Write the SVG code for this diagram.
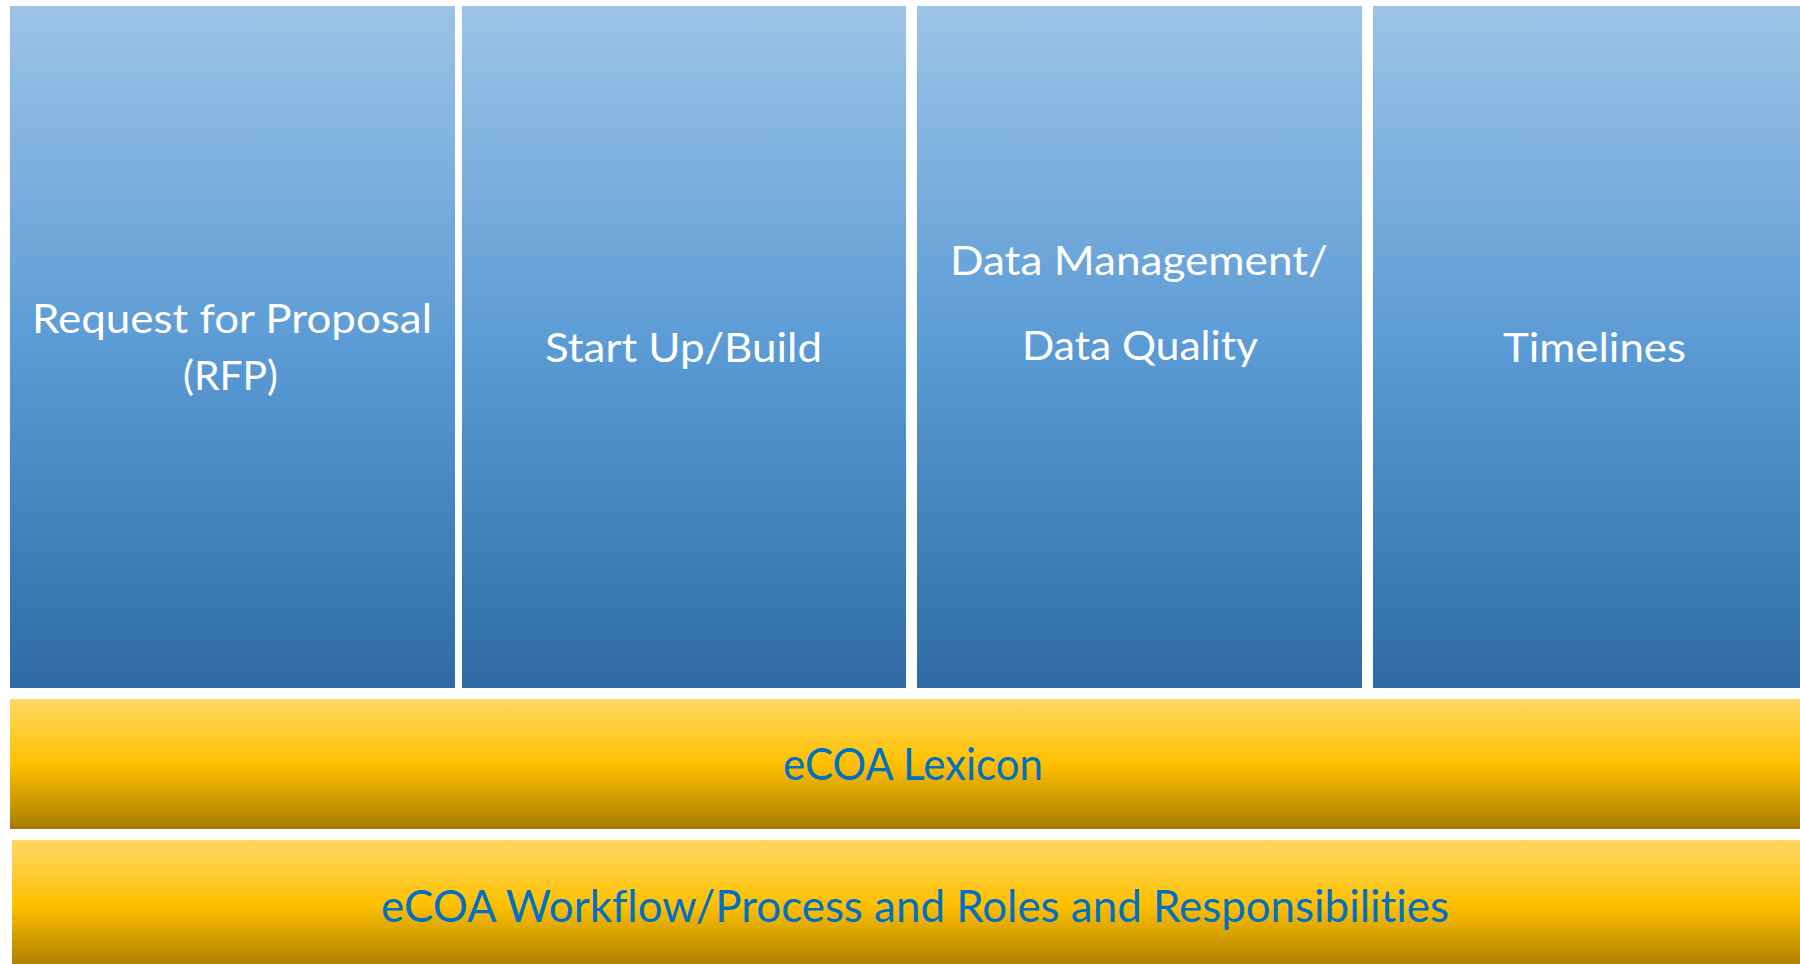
<svg xmlns="http://www.w3.org/2000/svg" width="1800" height="964" viewBox="0 0 1800 964">
<defs>
<linearGradient id="blue" x1="0" y1="0" x2="0" y2="1">
<stop offset="0" stop-color="#9DC3E6"/>
<stop offset="0.5" stop-color="#5B9BD5"/>
<stop offset="1" stop-color="#2E6BA5"/>
</linearGradient>
<linearGradient id="gold" x1="0" y1="0" x2="0" y2="1">
<stop offset="0" stop-color="#FFD966"/>
<stop offset="0.5" stop-color="#FFC000"/>
<stop offset="1" stop-color="#A67C00"/>
</linearGradient>
</defs>
<style>
.col{fill:url(#blue)}
.bar{fill:url(#gold)}
.wt{font-family:Lato,"Open Sans",sans-serif;font-size:40px;fill:#FFFFFF;text-anchor:middle;font-variant-ligatures:none}
.bt{font-family:Lato,"Open Sans",sans-serif;font-size:44px;fill:#0070C0;text-anchor:middle;font-variant-ligatures:none}
</style>
<rect width="1800" height="964" fill="#FFFFFF"/>
<g id="rfp">
<rect class="col" x="10" y="6" width="445" height="682"/>
<text class="wt" x="232" y="333" textLength="400" lengthAdjust="spacingAndGlyphs">Request for Proposal</text>
<text class="wt" x="230.5" y="390" textLength="95" lengthAdjust="spacingAndGlyphs">(RFP)</text>
</g>
<g id="startup">
<rect class="col" x="462" y="6" width="444" height="682"/>
<text class="wt" x="683.5" y="362" textLength="277" lengthAdjust="spacingAndGlyphs">Start Up/Build</text>
</g>
<g id="datamgmt">
<rect class="col" x="917" y="6" width="445" height="682"/>
<text class="wt" x="1139" y="275" textLength="378" lengthAdjust="spacingAndGlyphs">Data Management/</text>
<text class="wt" x="1140" y="360" textLength="236" lengthAdjust="spacingAndGlyphs">Data Quality</text>
</g>
<g id="timelines">
<rect class="col" x="1373" y="6" width="440" height="682"/>
<text class="wt" x="1594.5" y="362" textLength="183" lengthAdjust="spacingAndGlyphs">Timelines</text>
</g>
<g id="lexicon">
<rect class="bar" x="10" y="699" width="1800" height="130"/>
<text class="bt" x="913" y="780" textLength="260" lengthAdjust="spacingAndGlyphs">eCOA Lexicon</text>
</g>
<g id="workflow">
<rect class="bar" x="12" y="840" width="1800" height="130"/>
<text class="bt" x="915" y="922" textLength="1068" lengthAdjust="spacingAndGlyphs">eCOA Workflow/Process and Roles and Responsibilities</text>
</g>
<g id="connectors"/>
</svg>
